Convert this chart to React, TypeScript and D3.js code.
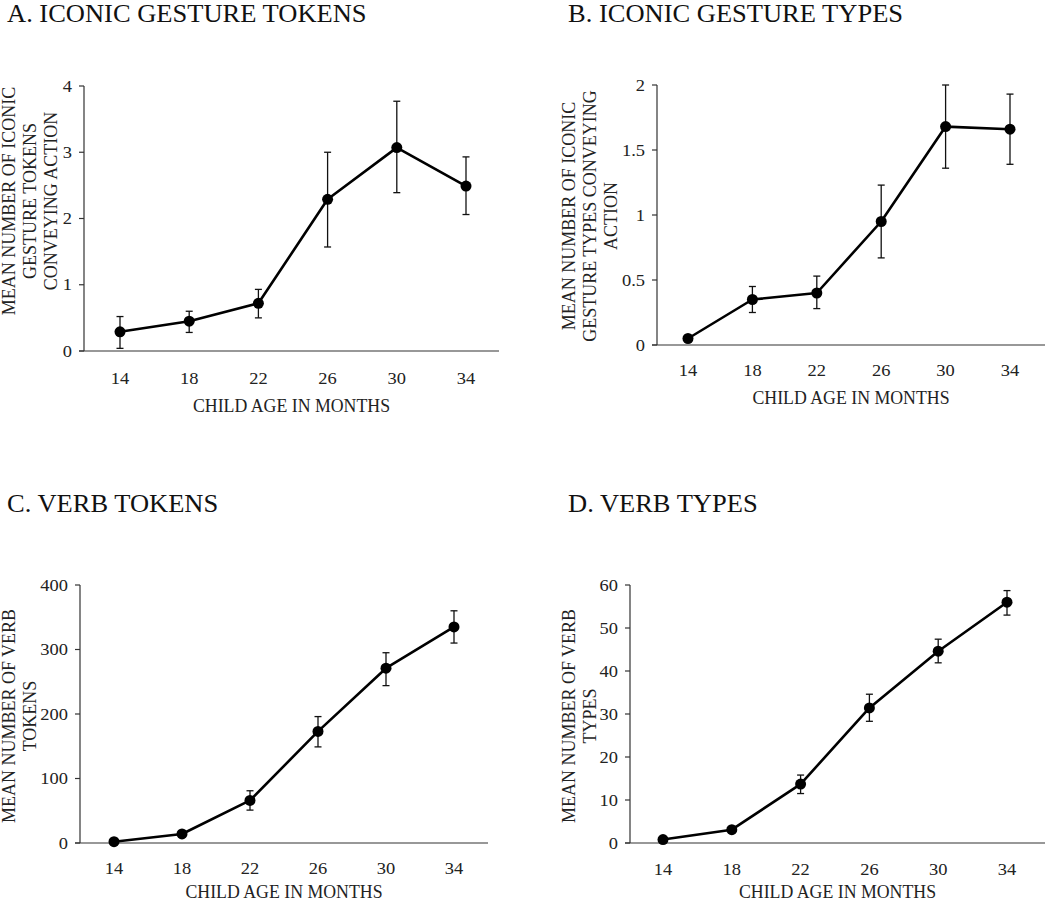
import React from "react";
import * as d3 from "d3";

const ages = [14, 18, 22, 26, 30, 34];

const gestureTokenMean = [0.29, 0.45, 0.72, 2.29, 3.07, 2.49];
const gestureTokenLow = [0.04, 0.28, 0.5, 1.57, 2.39, 2.06];
const gestureTokenHigh = [0.52, 0.6, 0.93, 3.0, 3.77, 2.93];

const gestureTypeMean = [0.05, 0.35, 0.4, 0.95, 1.68, 1.66];
const gestureTypeLow = [0.05, 0.25, 0.28, 0.67, 1.36, 1.39];
const gestureTypeHigh = [0.05, 0.45, 0.53, 1.23, 2.0, 1.93];

const verbTokenMean = [2, 14, 66, 173, 271, 335];
const verbTokenLow = [2, 14, 51, 149, 244, 310];
const verbTokenHigh = [2, 14, 81, 196, 295, 360];

const verbTypeMean = [0.8, 3.1, 13.7, 31.4, 44.6, 56.0];
const verbTypeLow = [0.8, 3.1, 11.5, 28.3, 41.9, 53.0];
const verbTypeHigh = [0.8, 3.1, 15.8, 34.6, 47.4, 58.7];

const ticksA = [0, 1, 2, 3, 4];
const ticksB = [0, 0.5, 1, 1.5, 2];
const ticksC = [0, 100, 200, 300, 400];
const ticksD = [0, 10, 20, 30, 40, 50, 60];

const titles = [
  "A. ICONIC GESTURE TOKENS",
  "B. ICONIC GESTURE TYPES",
  "C. VERB TOKENS",
  "D. VERB TYPES",
];
const yLabels = [
  ["MEAN NUMBER OF ICONIC", "GESTURE TOKENS", "CONVEYING ACTION"],
  ["MEAN NUMBER OF ICONIC", "GESTURE TYPES CONVEYING", "ACTION"],
  ["MEAN NUMBER OF VERB", "TOKENS"],
  ["MEAN NUMBER OF VERB", "TYPES"],
];
const xLabel = "CHILD AGE IN MONTHS";

const FONT = "'Liberation Serif', 'Times New Roman', serif";

type Layout = {
  axisX: number;
  top: number;
  bottom: number;
  right: number;
  c0: number;
  c1: number;
  titleX: number;
  titleY: number;
  yLabX: number;
  yLabY: number;
  xLabY: number;
  xTickY: number;
};

const layouts: Layout[] = [
  { axisX: 84, top: 86, bottom: 351, right: 499, c0: 120, c1: 466, titleX: 7, titleY: 22, yLabX: 9, yLabY: 201, xLabY: 406, xTickY: 378 },
  { axisX: 657, top: 85, bottom: 345, right: 1045, c0: 688, c1: 1010, titleX: 568, titleY: 22, yLabX: 569, yLabY: 216, xLabY: 398, xTickY: 370 },
  { axisX: 80, top: 585, bottom: 843, right: 488, c0: 114, c1: 454, titleX: 7, titleY: 512, yLabX: 9, yLabY: 716, xLabY: 892, xTickY: 868 },
  { axisX: 630, top: 585, bottom: 843, right: 1045, c0: 663, c1: 1007, titleX: 568, titleY: 512, yLabX: 569, yLabY: 716, xLabY: 892, xTickY: 869 },
];

const series = [
  { mean: gestureTokenMean, low: gestureTokenLow, high: gestureTokenHigh, ticks: ticksA },
  { mean: gestureTypeMean, low: gestureTypeLow, high: gestureTypeHigh, ticks: ticksB },
  { mean: verbTokenMean, low: verbTokenLow, high: verbTokenHigh, ticks: ticksC },
  { mean: verbTypeMean, low: verbTypeLow, high: verbTypeHigh, ticks: ticksD },
];

function Panel({ idx }: { idx: number }) {
  const L = layouts[idx];
  const S = series[idx];
  const yMax = S.ticks[S.ticks.length - 1];
  const x = d3.scalePoint<number>().domain(ages).range([L.c0, L.c1]);
  const y = d3.scaleLinear().domain([0, yMax]).range([L.bottom, L.top]);
  const line = d3
    .line<number>()
    .x((_, i) => x(ages[i]) as number)
    .y((d) => y(d));
  const axisColor = "#333";
  const tickSx = 1.12;
  return (
    <g>
      <text
        transform={`translate(${L.titleX},${L.titleY}) scale(1.06,1)`}
        fontSize={25}
        fontFamily={FONT}
        fill="#111"
      >
        {titles[idx]}
      </text>
      <line x1={L.axisX} x2={L.axisX} y1={L.top} y2={L.bottom} stroke={axisColor} strokeWidth={1.2} />
      <line x1={L.axisX - 5} x2={L.right} y1={L.bottom} y2={L.bottom} stroke={axisColor} strokeWidth={1.2} />
      {S.ticks.map((t) => (
        <g key={t}>
          <line x1={L.axisX - 5} x2={L.axisX} y1={y(t)} y2={y(t)} stroke={axisColor} strokeWidth={1.2} />
          <text
            transform={`translate(${L.axisX - 12},${y(t)}) scale(${tickSx},1)`}
            textAnchor="end"
            dominantBaseline="central"
            fontSize={16.5}
            fontFamily={FONT}
            fill="#222"
          >
            {t}
          </text>
        </g>
      ))}
      {ages.map((a) => (
        <text
          key={a}
          transform={`translate(${x(a)},${L.xTickY}) scale(${tickSx},1)`}
          textAnchor="middle"
          dominantBaseline="central"
          fontSize={16.5}
          fontFamily={FONT}
          fill="#222"
        >
          {a}
        </text>
      ))}
      <text
        x={(L.axisX + L.right) / 2}
        y={L.xLabY}
        textAnchor="middle"
        dominantBaseline="central"
        fontSize={17.8}
        fontFamily={FONT}
        fill="#222"
      >
        {xLabel}
      </text>
      {yLabels[idx].map((s, i) => (
        <text
          key={i}
          transform={`translate(${L.yLabX + i * 21},${L.yLabY}) rotate(-90)`}
          textAnchor="middle"
          dominantBaseline="central"
          fontSize={18}
          fontFamily={FONT}
          fill="#222"
        >
          {s}
        </text>
      ))}
      {ages.map((a, i) =>
        S.high[i] - S.low[i] > 0.0001 * yMax ? (
          <g key={a} stroke="#111" strokeWidth={1.3}>
            <line x1={x(a)} x2={x(a)} y1={y(S.low[i])} y2={y(S.high[i])} />
            <line x1={(x(a) as number) - 3.5} x2={(x(a) as number) + 3.5} y1={y(S.low[i])} y2={y(S.low[i])} />
            <line x1={(x(a) as number) - 3.5} x2={(x(a) as number) + 3.5} y1={y(S.high[i])} y2={y(S.high[i])} />
          </g>
        ) : null
      )}
      <path d={line(S.mean) || ""} fill="none" stroke="#000" strokeWidth={2.6} strokeLinejoin="round" />
      {ages.map((a, i) => (
        <circle key={a} cx={x(a)} cy={y(S.mean[i])} r={5.5} fill="#000" />
      ))}
    </g>
  );
}

export default function App() {
  return (
    <svg
      width={1050}
      height={903}
      style={{ position: "absolute", left: 0, top: 0, background: "#fff" }}
    >
      <rect width={1050} height={903} fill="#fff" />
      {[0, 1, 2, 3].map((i) => (
        <Panel key={i} idx={i} />
      ))}
    </svg>
  );
}
